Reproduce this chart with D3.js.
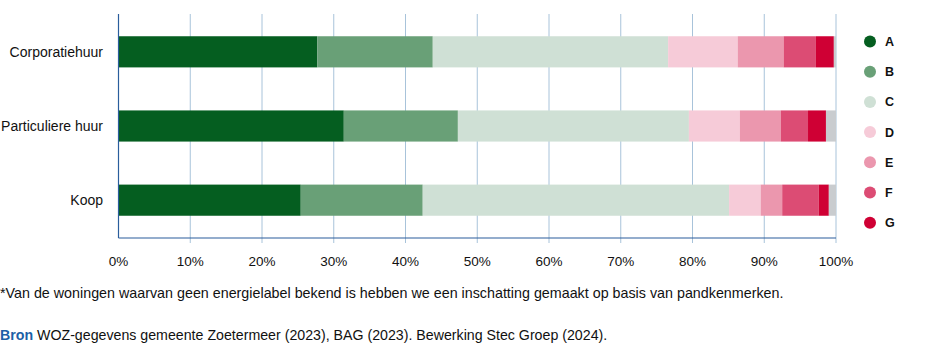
<!DOCTYPE html>
<html>
<head>
<meta charset="utf-8">
<script src="https://cdn.jsdelivr.net/npm/d3@7"></script>
<style>
  body { margin: 0; background: #fff; }
  svg { font-family: "Liberation Sans", Arial, sans-serif; }
</style>
</head>
<body>
<div id="chart"></div>
<script>
// Woningtypes en energielabels (aandeel in %)
const categories = ["Corporatiehuur", "Particuliere huur", "Koop"];
const labels = ["A", "B", "C", "D", "E", "F", "G", "Onbekend"];
const valuesA = [27.7, 31.4, 25.4];
const valuesB = [16.1, 15.9, 17.0];
const valuesC = [32.8, 32.2, 42.7];
const valuesD = [9.7, 7.1, 4.4];
const valuesE = [6.4, 5.7, 3.0];
const valuesF = [4.5, 3.8, 5.1];
const valuesG = [2.5, 2.5, 1.4];
const valuesOnbekend = [0.3, 1.4, 1.0];
const xTicks = [0, 10, 20, 30, 40, 50, 60, 70, 80, 90, 100];
const legendLabels = ["A", "B", "C", "D", "E", "F", "G"];

const colors = {
  A: "#055e20", B: "#69a077", C: "#cfe0d5", D: "#f6cbd8",
  E: "#eb97ae", F: "#dc4c74", G: "#cf0034", Onbekend: "#c9cccf"
};

const series = [valuesA, valuesB, valuesC, valuesD, valuesE, valuesF, valuesG, valuesOnbekend];
const rows = categories.map((c, i) => {
  const r = { cat: c };
  labels.forEach((l, j) => r[l] = series[j][i]);
  return r;
});

const width = 933, height = 348;
const svg = d3.select("#chart").append("svg")
  .attr("width", width).attr("height", height);

const x = d3.scaleLinear().domain([0, 100]).range([118.5, 836]);
const y = d3.scaleBand().domain(categories).range([14, 238]).paddingInner(0.58).paddingOuter(0.30);

// gridlijnen
svg.append("g").selectAll("line")
  .data(xTicks.filter(d => d > 0)).enter().append("line")
  .attr("x1", d => x(d)).attr("x2", d => x(d))
  .attr("y1", 14).attr("y2", 243)
  .attr("stroke", "#a8c3da").attr("stroke-width", 1);

// balken
const stack = d3.stack().keys(labels)(rows);
svg.append("g").selectAll("g")
  .data(stack).enter().append("g")
  .attr("fill", d => colors[d.key])
  .selectAll("rect")
  .data(d => d).enter().append("rect")
  .attr("x", d => x(d[0]))
  .attr("width", d => x(d[1]) - x(d[0]))
  .attr("y", d => y(d.data.cat))
  .attr("height", y.bandwidth());

// assen
svg.append("line").attr("x1", x(0)).attr("x2", x(0)).attr("y1", 14).attr("y2", 238)
  .attr("stroke", "#2a5d9c").attr("stroke-width", 1.2);
svg.append("line").attr("x1", x(0)).attr("x2", x(100)).attr("y1", 238).attr("y2", 238)
  .attr("stroke", "#2a5d9c").attr("stroke-width", 1.2);

svg.append("g").selectAll("text")
  .data(xTicks).enter().append("text")
  .attr("x", d => x(d)).attr("y", 266)
  .attr("text-anchor", "middle")
  .style("font-size", "13.5px").style("fill", "#111")
  .text(d => d + "%");

svg.append("g").selectAll("text")
  .data(categories).enter().append("text")
  .attr("x", 103).attr("y", d => y(d) + y.bandwidth() / 2 + 5)
  .attr("text-anchor", "end")
  .style("font-size", "14px").style("fill", "#111")
  .text(d => d);

// legenda
const legend = svg.append("g").selectAll("g")
  .data(legendLabels).enter().append("g")
  .attr("transform", (d, i) => `translate(870, ${41.5 + i * 30.2})`);
legend.append("circle").attr("r", 6).attr("fill", d => colors[d]);
legend.append("text").attr("x", 15).attr("y", 4.5)
  .style("font-size", "12.5px").style("font-weight", "700").style("fill", "#111")
  .text(d => d);

// voetnoten
svg.append("text").attr("x", 0).attr("y", 298)
  .style("font-size", "14.3px").style("fill", "#111")
  .text("*Van de woningen waarvan geen energielabel bekend is hebben we een inschatting gemaakt op basis van pandkenmerken.");

const bron = svg.append("text").attr("x", 0).attr("y", 340)
  .style("font-size", "14.2px").style("fill", "#111");
bron.append("tspan").style("fill", "#1d5fa6").style("font-weight", "700").text("Bron");
bron.append("tspan").text(" WOZ-gegevens gemeente Zoetermeer (2023), BAG (2023). Bewerking Stec Groep (2024).");
</script>
</body>
</html>
